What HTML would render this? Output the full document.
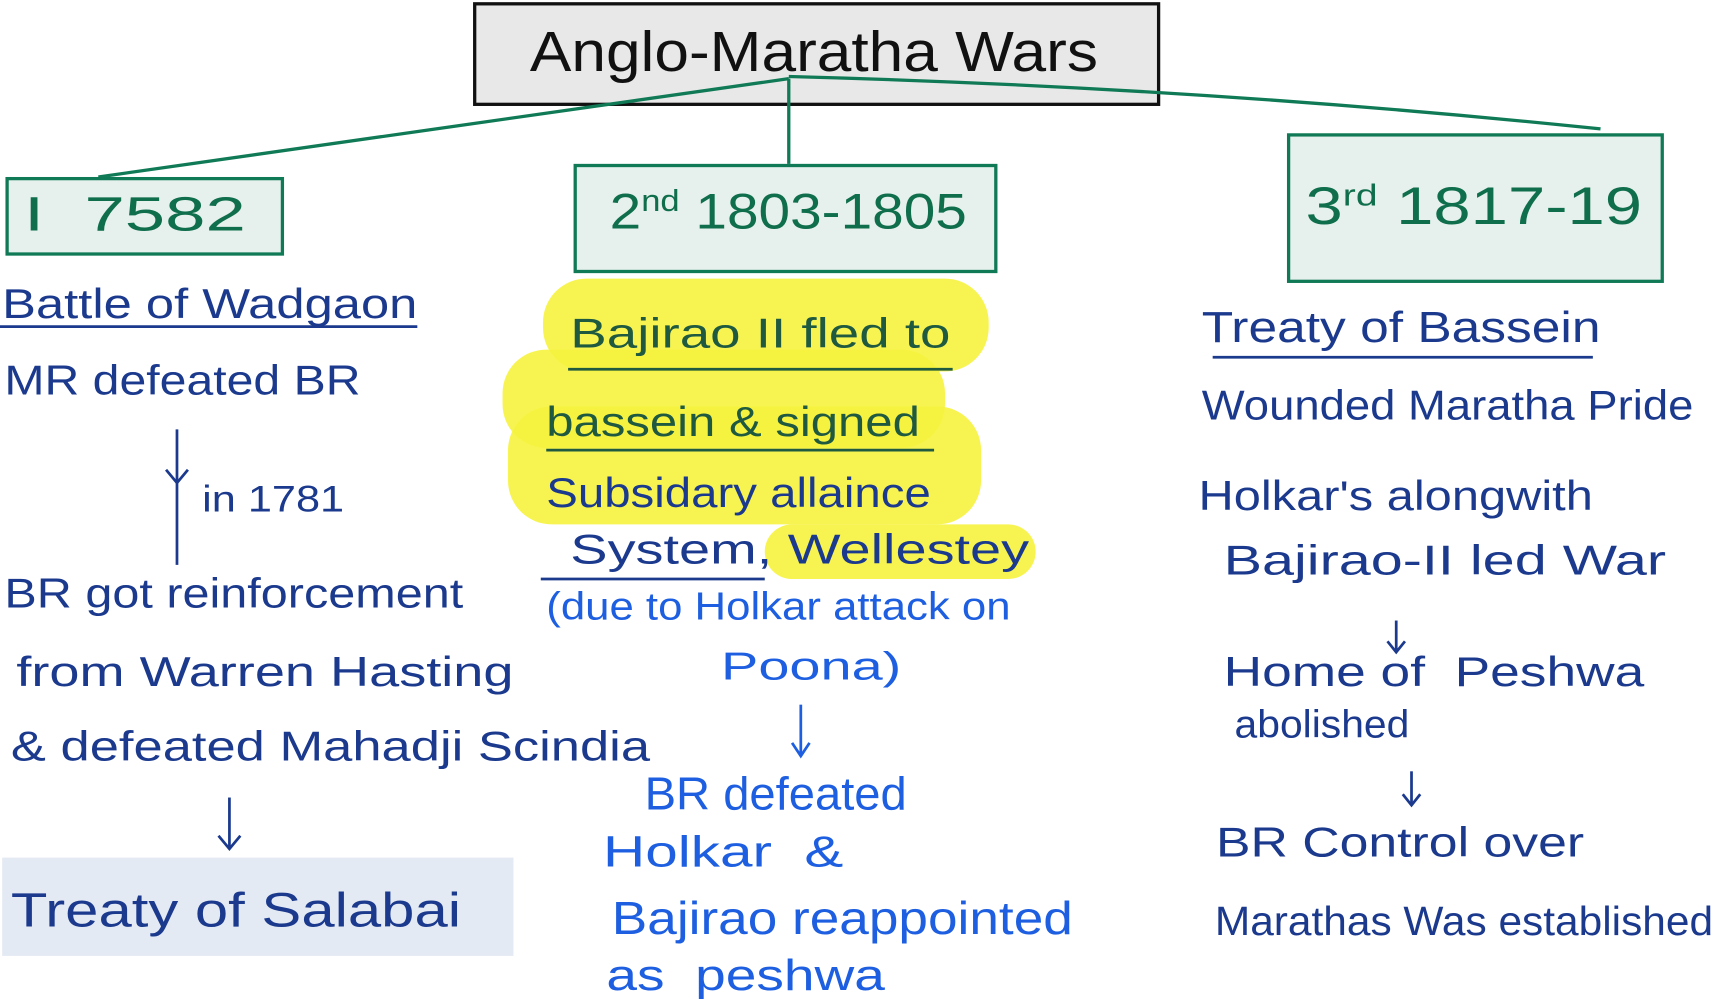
<!DOCTYPE html>
<html><head><meta charset="utf-8"><style>
html,body{margin:0;padding:0;background:#fff;width:1713px;height:1000px;overflow:hidden}
#stage{position:absolute;left:0;top:0;width:1568px;height:915px;transform:scale(1.0925);transform-origin:0 0;font-family:"Liberation Sans",sans-serif}
.t{position:absolute;white-space:nowrap;font-size:38px;line-height:1;transform-origin:0 0}
.db{color:#1b3a8e}.gr{color:#0f6e4c}.bb{color:#1d5fe0}.dg{color:#1f5a40}
.box{position:absolute;box-sizing:border-box}
.hl{position:absolute;background:#f6f33f;border-radius:40px;opacity:.9}
</style></head><body>
<div id="stage">
<div class="hl" style="left:497px;top:255px;width:408px;height:85px"></div>
<div class="hl" style="left:460px;top:320px;width:405px;height:90px"></div>
<div class="hl" style="left:465px;top:372px;width:433px;height:108px"></div>
<div class="hl" style="left:700px;top:480px;width:248px;height:50px"></div>

<div class="box" style="left:433px;top:2px;width:629px;height:95px;background:#e8e8e8;border:3px solid #111"></div>
<div class="t" data-w="520" style="left:485px;top:22px;font-size:52px;color:#111">Anglo-Maratha Wars</div>

<svg width="1568" height="915" style="position:absolute;left:0;top:0">
<g stroke="#0f7a55" stroke-width="3" fill="none">
<path d="M722 72 L722 168"/><path d="M722 72 L90 162"/><path d="M722 70 Q1100 80 1465 118"/>
</g>
<g stroke="#1b3a8e" stroke-width="2.5" fill="none">
<path d="M0 299 L382 299"/><path d="M162 393 L162 517"/><path d="M152 430 L162 442 L172 430"/>
<path d="M210 730 L210 775"/><path d="M200 765 L210 777 L220 765"/>
<path d="M1110 327 L1458 327"/><path d="M495 530 L700 530"/>
<path d="M1278 568 L1278 595"/><path d="M1270 587 L1278 597 L1286 587"/>
<path d="M1292 706 L1292 735"/><path d="M1284 727 L1292 737 L1300 727"/>
</g>
<g stroke="#1f5a40" stroke-width="2.5"><path d="M520 338 L872 338"/><path d="M500 412 L855 412"/></g>
<g stroke="#1d5fe0" stroke-width="2.5" fill="none"><path d="M733 645 L733 690"/><path d="M725 680 L733 692 L741 680"/></g>
</svg>

<div class="box" style="left:5px;top:162px;width:255px;height:72px;background:#e6f0ec;border:3px solid #0f7a55"></div>
<div class="t gr" data-w="203" style="left:22px;top:175px;font-size:44px">I &nbsp;7582</div>
<div class="box" style="left:525px;top:150px;width:388px;height:100px;background:#e6f0ec;border:3px solid #0f7a55"></div>
<div class="t gr" data-w="327" style="left:558px;top:170px;font-size:46px">2<sup style="font-size:28px">nd</sup> 1803-1805</div>
<div class="box" style="left:1178px;top:122px;width:345px;height:137px;background:#e6f0ec;border:3px solid #0f7a55"></div>
<div class="t gr" data-w="308" style="left:1195px;top:165px;font-size:48px">3<sup style="font-size:28px">rd</sup> 1817-19</div>

<div class="t db" data-w="380" style="left:2px;top:260px">Battle of Wadgaon</div>
<div class="t db" data-w="326" style="left:4px;top:330px">MR defeated BR</div>
<div class="t db" data-w="130" style="left:185px;top:440px;font-size:34px">in 1781</div>
<div class="t db" data-w="420" style="left:4px;top:525px">BR got reinforcement</div>
<div class="t db" data-w="455" style="left:15px;top:597px">from Warren Hasting</div>
<div class="t db" data-w="585" style="left:10px;top:665px">&amp; defeated Mahadji Scindia</div>
<div class="box" style="left:2px;top:785px;width:468px;height:90px;background:#e4eaf3"></div>
<div class="t db" data-w="412" style="left:10px;top:812px;font-size:44px">Treaty of Salabai</div>

<div class="t dg" data-w="348" style="left:522px;top:287px">Bajirao II fled to</div>
<div class="t dg" data-w="342" style="left:500px;top:368px">bassein &amp; signed</div>
<div class="t db" data-w="352" style="left:500px;top:433px">Subsidary allaince</div>
<div class="t db" data-w="420" style="left:522px;top:485px">System, Wellestey</div>
<div class="t bb" data-w="425" style="left:500px;top:537px;font-size:36px">(due to Holkar attack on</div>
<div class="t bb" data-w="165" style="left:660px;top:592px;font-size:36px">Poona)</div>
<div class="t bb" data-w="240" style="left:590px;top:706px;font-size:42px">BR defeated</div>
<div class="t bb" data-w="220" style="left:552px;top:760px;font-size:40px">Holkar &nbsp;&amp;</div>
<div class="t bb" data-w="422" style="left:560px;top:820px;font-size:42px">Bajirao reappointed</div>
<div class="t bb" data-w="255" style="left:555px;top:873px;font-size:40px">as &nbsp;peshwa</div>

<div class="t db" data-w="365" style="left:1100px;top:280px;font-size:40px">Treaty of Bassein</div>
<div class="t db" data-w="450" style="left:1100px;top:353px">Wounded Maratha Pride</div>
<div class="t db" data-w="361" style="left:1097px;top:436px">Holkar's alongwith</div>
<div class="t db" data-w="405" style="left:1120px;top:495px">Bajirao-II led War</div>
<div class="t db" data-w="385" style="left:1120px;top:597px">Home of &nbsp;Peshwa</div>
<div class="t db" data-w="160" style="left:1130px;top:645px;font-size:36px">abolished</div>
<div class="t db" data-w="337" style="left:1113px;top:753px">BR Control over</div>
<div class="t db" data-w="456" style="left:1112px;top:825px;font-size:37px">Marathas Was established</div>
</div>
<script>
document.querySelectorAll('.t[data-w]').forEach(function(el){
  var w = el.getBoundingClientRect().width / 1.0925;
  var target = parseFloat(el.getAttribute('data-w'));
  if (w > 0) el.style.transform = 'scaleX(' + (target / w) + ')';
});
</script>
</body></html>
